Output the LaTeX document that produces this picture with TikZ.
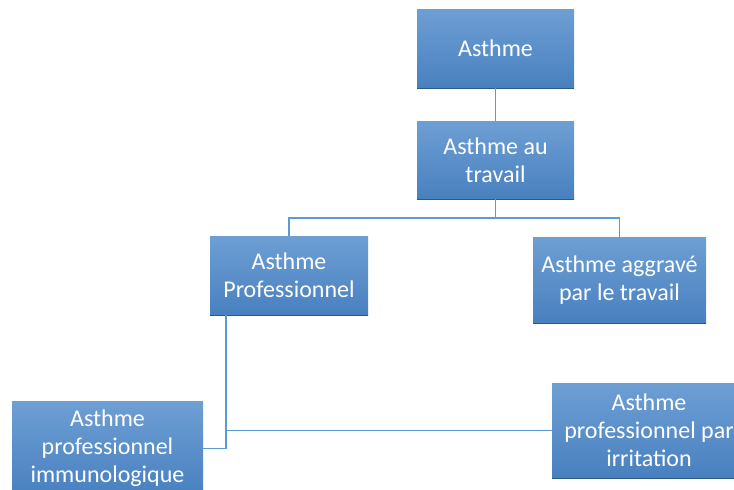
\documentclass[tikz,border=0pt]{standalone}
\usepackage{fontspec}
\setmainfont{Carlito}
\definecolor{boxtop}{HTML}{6E9FD4}
\definecolor{boxbot}{HTML}{4880BF}
\definecolor{boxedge}{HTML}{2C5A86}
\definecolor{connc}{HTML}{5B9BD5}
\tikzset{
  box/.style={rectangle, top color=boxtop, bottom color=boxbot, draw=none,
    inner sep=0pt, align=center, text=white,
    font=\fontsize{24}{28}\selectfont},
  conn/.style={draw=connc, line width=1.4pt},
  edge/.style={draw=boxedge, line width=1.4pt}
}
\begin{document}
\begin{tikzpicture}[x=1pt,y=-1pt]
\useasboundingbox (0,0) rectangle (734,490);
\node[box, minimum width=157pt, minimum height=79pt] (a) at (495.5,48.5) {Asthme};
\node[box, minimum width=157pt, minimum height=78pt] (b) at (495.5,160) {Asthme au\\travail};
\node[box, minimum width=158pt, minimum height=79pt] (c) at (289,275.5) {Asthme\\Professionnel};
\node[box, minimum width=173pt, minimum height=86pt] (d) at (619.5,280) {Asthme aggravé\\par le travail};
\node[box, minimum width=191pt, minimum height=95pt] (e) at (107.5,448.5) {Asthme\\professionnel\\immunologique};
\node[box, minimum width=194pt, minimum height=95pt] (f) at (649,430.5) {Asthme\\professionnel par\\irritation};
\foreach \n in {a,b,c,d,f}{\draw[edge] (\n.south west) -- (\n.south east);}
\coordinate (j) at (495.5,218);
\coordinate (p) at ([xshift=16pt]c.south west);
\draw[conn] (a.south) -- (b.north);
\draw[conn] (b.south) -- (j);
\draw[conn] (c.north) -- (c.north |- j) -- (d.north |- j) -- (d.north);
\draw[conn] (p) |- (e.east);
\draw[conn] (p |- f.west) -- (f.west);
\end{tikzpicture}
\end{document}
